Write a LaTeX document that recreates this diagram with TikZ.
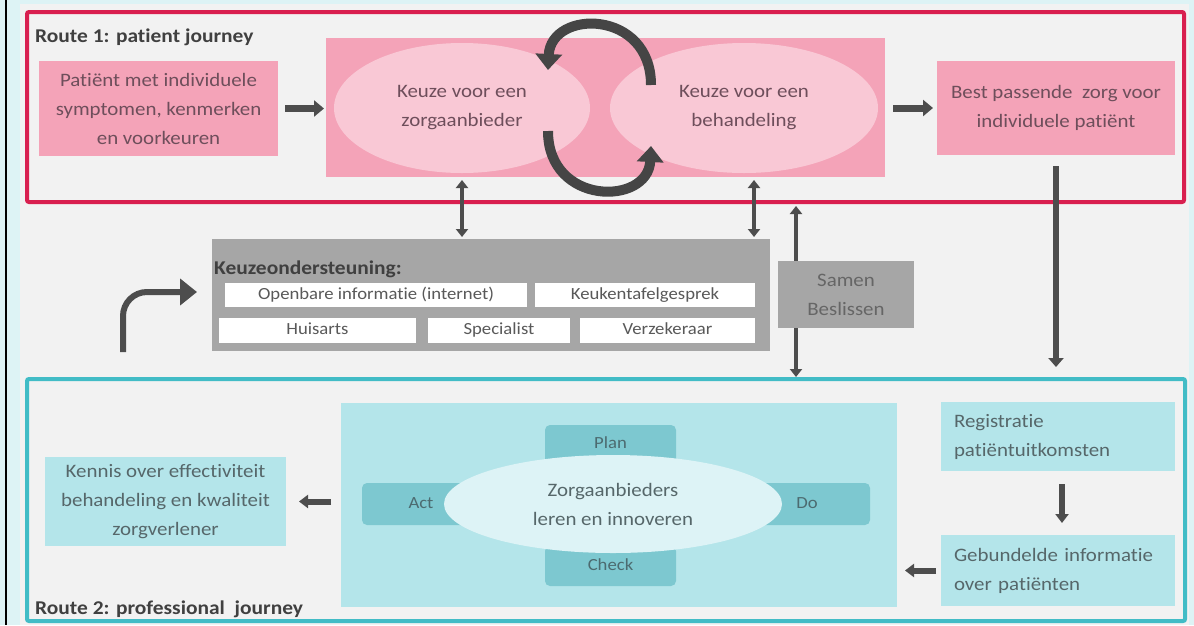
\documentclass[tikz,border=0pt]{standalone}
\usepackage{fontspec}
\setmainfont[FakeStretch=1.1, Ligatures=NoCommon, RawFeature={-calt;-clig;-dlig}]{Carlito}
\usetikzlibrary{arrows.meta,shapes.geometric}

\definecolor{bgcyan}{HTML}{DDF3F5}
\definecolor{bggray}{HTML}{F2F2F2}
\definecolor{routered}{HTML}{D91F4F}
\definecolor{routecyan}{HTML}{42BCC6}
\definecolor{pinkfill}{HTML}{F4A3B8}
\definecolor{pinkoval}{HTML}{F9C8D5}
\definecolor{pinktext}{HTML}{6E4E5B}
\definecolor{cyanfill}{HTML}{B4E5EA}
\definecolor{pdcafill}{HTML}{7DC8D0}
\definecolor{pdcatext}{HTML}{4C6B70}
\definecolor{cyanoval}{HTML}{DDF3F6}
\definecolor{cyantext}{HTML}{56676A}
\definecolor{grayfill}{HTML}{A6A6A6}
\definecolor{samentext}{HTML}{666666}
\definecolor{whitetext}{HTML}{595959}
\definecolor{arrowgray}{HTML}{4D4D4D}
\definecolor{cyclegray}{HTML}{454545}
\definecolor{titlegray}{HTML}{404040}

\newcommand{\maintext}{\fontsize{19}{29}\selectfont}
\newcommand{\smalltext}{\fontsize{17}{20}\selectfont}
\newcommand{\titlefont}{\fontsize{19.5}{24}\selectfont\bfseries}

\newcommand{\cornerbox}[7]{
	\pgfmathsetmacro{\CBx}{(#2+#4)/2}
	\pgfmathsetmacro{\CBy}{(#3+#5)/2}
	\pgfmathsetmacro{\CBw}{#4-#2}
	\pgfmathsetmacro{\CBh}{#5-#3}
	\node[#6, minimum width=\CBw pt, minimum height=\CBh pt] (#1) at (\CBx, \CBy) {#7};
}

\begin{document}
\begin{tikzpicture}[x=1pt,y=-1pt,
	pinkrect/.style={fill=pinkfill, text=pinktext, align=center, font=\maintext, inner sep=0pt, outer sep=0pt},
	pinkell/.style={ellipse, fill=pinkoval, text=pinktext, align=center, font=\maintext, inner sep=0pt, outer sep=0pt},
	cyanrect/.style={fill=cyanfill, text=cyantext, align=center, font=\maintext, inner sep=0pt, outer sep=0pt},
	cyanleft/.style={cyanrect, align=left, text width=208pt},
	cyanell/.style={ellipse, fill=cyanoval, text=cyantext, align=center, font=\maintext, inner sep=0pt, outer sep=0pt},
	pdcarect/.style={fill=pdcafill, text=pdcatext, rounded corners=5pt, font=\smalltext, text height=11pt, text depth=3pt, inner sep=0pt, outer sep=0pt},
	grayrect/.style={fill=grayfill, text=samentext, align=center, font=\maintext, inner sep=0pt, outer sep=0pt},
	whiterect/.style={fill=white, text=whitetext, font=\smalltext, text height=11pt, text depth=3pt, inner sep=0pt, outer sep=0pt},
	routeframe/.style={line width=4pt, rounded corners=2pt, inner sep=0pt, outer sep=0pt},
	titletext/.style={text=titlegray, font=\titlefont, inner sep=0pt, anchor=base west},
	blockarrow/.style={draw=arrowgray, line width=7pt, -{Triangle[width=16pt,length=10pt]}},
	dblarrow/.style={draw=arrowgray, line width=4.5pt, {Triangle[width=12pt,length=8pt]}-{Triangle[width=12pt,length=8pt]}},
	longarrow/.style={draw=arrowgray, line width=6pt, -{Triangle[width=15pt,length=9pt]}},
	smallarrow/.style={draw=arrowgray, line width=6pt, -{Triangle[width=13pt,length=9pt]}},
	bentarrow/.style={draw=arrowgray, line width=6pt, rounded corners=24pt, -{Triangle[width=26pt,length=17pt]}},
	cyclearrow/.style={draw=cyclegray, line width=10pt, -{Triangle[width=26pt,length=16pt]}}
]
\useasboundingbox (0,0) rectangle (1194,625);
\fill[bgcyan] (0,0) rectangle (1194,625);
\fill[bggray] (20,4) rectangle (1189,625);
\draw[black, line width=2pt] (6,0) -- (6,625);

\cornerbox{route1}{27}{12}{1184}{202}{routeframe, draw=routered}{}
\cornerbox{route2}{27}{379}{1185}{621}{routeframe, draw=routecyan}{}
\node[titletext] (route1title) at (35,42) {Route 1: patient journey};
\node[titletext] (route2title) at (35,614) {Route 2: professional~ journey};

\cornerbox{patient}{39}{61}{278}{156}{pinkrect}{Patiënt met individuele\\symptomen, kenmerken\\en voorkeuren}
\cornerbox{bigpink}{326}{38}{885}{177}{pinkrect}{}
\cornerbox{zorgkeuze}{334}{43}{590}{173}{pinkell}{Keuze voor een\\zorgaanbieder}
\cornerbox{behandelkeuze}{610}{43}{878}{173}{pinkell}{Keuze voor een\\behandeling}
\cornerbox{best}{937}{61}{1175}{155}{pinkrect}{Best passende~ zorg voor\\individuele patiënt}

\pgfmathsetmacro{\cycLx}{548}
\pgfmathsetmacro{\cycRx}{651}
\pgfmathsetmacro{\cycHi}{9}
\pgfmathsetmacro{\cycLo}{206}
\draw[cyclearrow] (\cycRx,85) .. controls (\cycRx,\cycHi) and (\cycLx+3,\cycHi) .. (\cycLx,70);
\draw[cyclearrow] (\cycLx,131) .. controls (\cycLx,\cycLo) and (\cycRx-3,\cycLo) .. (\cycRx,146);

\draw[blockarrow, shorten <=7pt, shorten >=2pt] (patient.east) -- (patient.east -| bigpink.west);
\draw[blockarrow, shorten <=8pt, shorten >=4pt] (bigpink.east |- best.west) -- (best.west);

\cornerbox{keuze}{212}{239}{770}{351}{grayrect}{}
\node[titletext] (keuzetitle) at (214,274) {Keuzeondersteuning:};
\cornerbox{openbaar}{225}{283}{527}{307}{whiterect}{Openbare informatie (internet)}
\cornerbox{keukentafel}{535}{283}{755}{307}{whiterect}{Keukentafelgesprek}
\cornerbox{huisarts}{219}{318}{416}{343}{whiterect}{Huisarts}
\cornerbox{specialist}{428}{318}{570}{343}{whiterect}{Specialist}
\cornerbox{verzekeraar}{580}{318}{755}{343}{whiterect}{Verzekeraar}

\draw[dblarrow, shorten <=3pt, shorten >=2pt] (zorgkeuze.south |- bigpink.south) -- (zorgkeuze.south |- keuze.north);
\coordinate (behandelaxis) at (754,200);
\draw[dblarrow, shorten <=3pt, shorten >=2pt] (behandelaxis |- bigpink.south) -- (behandelaxis |- keuze.north);
\coordinate (samenaxis) at (796,300);
\draw[dblarrow, shorten <=4pt, shorten >=2pt] (samenaxis |- route1.south) -- (samenaxis |- route2.north);
\cornerbox{samen}{778}{261}{914}{328}{grayrect}{Samen\\Beslissen}

\draw[longarrow, shorten <=11pt, shorten >=12pt] (best.south) -- (best.south |- route2.north);
\coordinate (bentstart) at (123,352);
\draw[bentarrow, shorten >=15pt] (bentstart) |- ([yshift=3pt]keuze.west);

\cornerbox{kennis}{45}{457}{286}{546}{cyanrect}{Kennis over effectiviteit\\behandeling en kwaliteit\\zorgverlener}
\cornerbox{bigcyan}{341}{403}{897}{607}{cyanrect}{}
\cornerbox{pdcaplan}{545}{425}{676}{464}{pdcarect}{Plan}
\cornerbox{pdcacheck}{545}{546}{676}{586}{pdcarect}{Check}
\cornerbox{pdcaact}{362}{483}{480}{525}{pdcarect}{Act}
\cornerbox{pdcado}{744}{483}{870}{525}{pdcarect}{Do}
\cornerbox{leren}{444}{455}{782}{553}{cyanell}{Zorgaanbieders\\leren en innoveren}
\cornerbox{registratie}{941}{402}{1175}{471}{cyanleft}{Registratie\\patiëntuitkomsten}
\cornerbox{gebundeld}{941}{535}{1175}{606}{cyanleft}{Gebundelde informatie\\over patiënten}

\draw[smallarrow, shorten <=10pt, shorten >=13pt] (bigcyan.west |- kennis.east) -- (kennis.east);
\draw[smallarrow, shorten <=13pt, shorten >=12pt] ([xshift=4pt]registratie.south) -- ([xshift=4pt]gebundeld.north);
\draw[smallarrow, shorten <=5pt, shorten >=8pt] (gebundeld.west) -- (gebundeld.west -| bigcyan.east);
\end{tikzpicture}
\end{document}
